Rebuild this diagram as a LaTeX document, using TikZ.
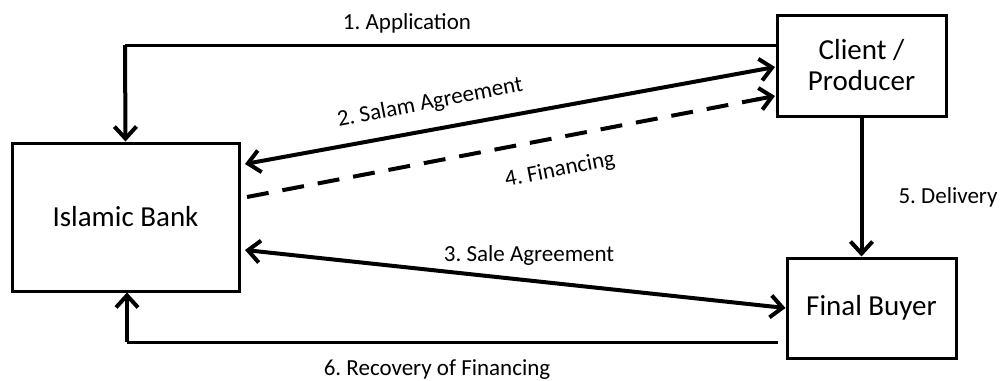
\documentclass[tikz,border=0pt]{standalone}
\usepackage{fontspec}
\setmainfont{Carlito}
\frenchspacing
\usetikzlibrary{arrows.meta,calc}
\tikzset{
  boxnode/.style={draw, line width=3pt, minimum width=#1, inner sep=0pt, font=\fontsize{29}{31}\selectfont, align=center},
  lbl/.style={font=\fontsize{23}{25}\selectfont, inner sep=0pt},
  thick4/.style={line width=4pt},
  thin3/.style={line width=3pt},
  barb/.style={-{Straight Barb[length=12pt,width=22pt]}},
  dbarb/.style={{Straight Barb[length=12pt,width=22pt]}-{Straight Barb[length=12pt,width=22pt]}},
  dashline/.style={dash pattern=on 22pt off 14pt}
}
\begin{document}
\begin{tikzpicture}[x=1pt,y=-1pt]
\fill[white] (0,0) rectangle (1000,380);
\useasboundingbox (0,0) rectangle (1000,380);
\node[boxnode=227pt, minimum height=148pt] (bank) at (125.5,217) {Islamic Bank};
\node[boxnode=169pt, minimum height=101pt] (client) at (861.5,65.5) {Client /\\Producer};
\node[boxnode=169pt, minimum height=100pt] (buyer) at (871.5,308) {Final Buyer};
\coordinate (appcorner) at (125,45);
\coordinate (salamB) at (245,164);
\coordinate (salamC) at (775,67);
\coordinate (finB) at (247,197);
\coordinate (finC) at (775,96);
\coordinate (saleB) at (245,250);
\coordinate (recS) at (778,342);
\coordinate (reccorner) at (127,342);
% 1. Application
\draw[thin3] (client.west |- appcorner) -- (appcorner);
\draw[thick4, barb] (appcorner) -- (bank.north);
% 2. Salam
\draw[thick4, dbarb] (salamB) -- (salamC);
% 4. Financing
\draw[thick4, dashline] (finB) -- ($(finB)!0.97!(finC)$);
\draw[thick4, barb] ($(finB)!0.965!(finC)$) -- (finC);
% 3. Sale
\draw[thick4, dbarb] (saleB) -- (buyer.west);
% 5. Delivery
\draw[thick4, barb] (client.south) -- (client.south |- buyer.north);
% 6. Recovery
\draw[thin3] (recS) -- (reccorner);
\draw[thick4, barb] (reccorner) -- (reccorner |- bank.south);
% labels
\node[lbl] (l1) at (407,23) {1. Application};
\node[lbl, rotate=11] (l2) at (430,103) {2. Salam Agreement};
\node[lbl, rotate=11] (l4) at (560,170) {4. Financing};
\node[lbl] (l3) at (529,255) {3. Sale Agreement};
\node[lbl] (l5) at (948,197) {5. Delivery};
\node[lbl] (l6) at (437,370) {6. Recovery of Financing};
\end{tikzpicture}
\end{document}
